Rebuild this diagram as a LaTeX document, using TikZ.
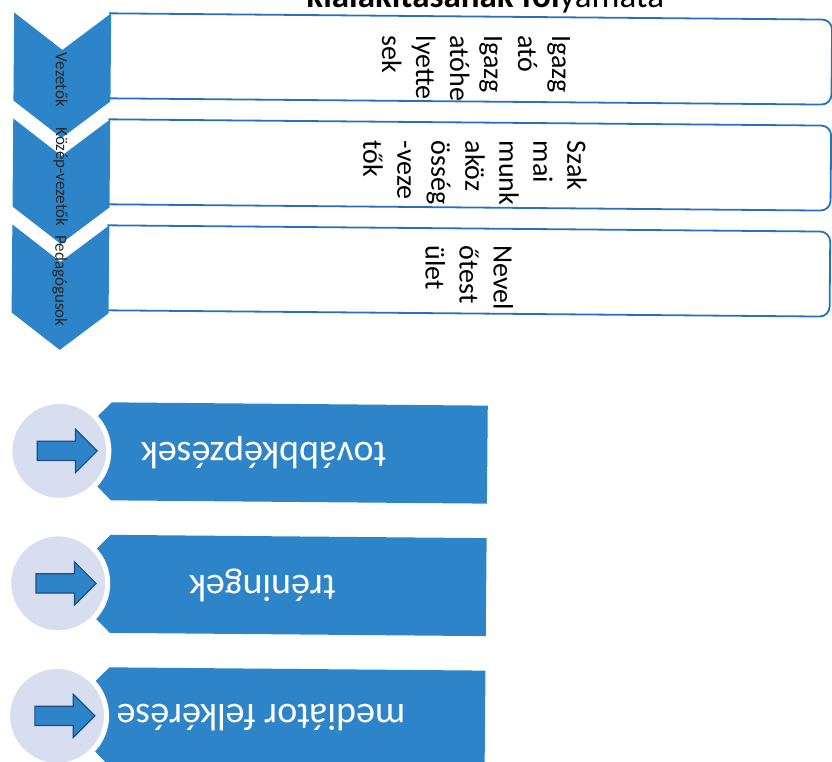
\documentclass[tikz,border=0pt]{standalone}
\usepackage{fontspec}
\setmainfont{Carlito}
\usetikzlibrary{shapes.arrows}
\definecolor{chevblue}{RGB}{46,132,200}
\definecolor{lineblue}{RGB}{40,112,190}
\definecolor{discfill}{RGB}{214,222,240}
\definecolor{arrowline}{RGB}{30,78,128}
\begin{document}
\begin{tikzpicture}
      [x=1pt,y=-1pt,every node/.style={inner sep=0pt},
       chevron/.style={fill=chevblue},
       listbox/.style={draw=lineblue, line width=1.8pt, rounded corners=10pt},
       boxtext/.style={rotate=-90, anchor=west, align=left, font=\fontsize{28}{34}\selectfont},
       levtext/.style={rotate=-90, text=black!85, font=\fontsize{17}{19}\selectfont},
       bar/.style={fill=chevblue},
       disc/.style={circle, fill=discfill, draw=white, line width=5pt, minimum size=99pt},
       arr/.style={single arrow, fill=chevblue, draw=arrowline, line width=1.2pt, inner xsep=0pt, inner ysep=9pt, single arrow head extend=12pt, minimum height=60pt},
       bartext/.style={rotate=180, text=white, font=\fontsize{38}{40}\selectfont}]
    \useasboundingbox (0,0) rectangle (832,761);
    \clip (0,0) rectangle (832,761);
    \begin{scope}[rotate around={-0.5:(416,380)}]
        \node[anchor=base west] (title) at (303,8) {\fontsize{35}{35}\selectfont\bfseries kialakításának fol\mdseries yamata};

        \foreach \y in {16,122,228}
          \draw[listbox] (106,\y) -- (829,\y) -- (829,\y+85) -- (106,\y+85);

        \foreach \y in {16,122,228}
          \fill[chevron] (11,\y) -- (59.5,\y+37) -- (108,\y) -- (108,\y+88) -- (59.5,\y+125) -- (11,\y+88) -- cycle;

        \node[levtext] (lev1) at (59,83) {Vezetők};
        \node[levtext] (lev2) at (59,180) {Közép-vezetők};
        \node[levtext] (lev3) at (59,284) {Pedagógusok};

        \node[boxtext] (box1) at (473,35) {Igazg\\ató\\Igazg\\atóhe\\lyette\\sek};
        \node[boxtext] (box2) at (473,140) {Szak\\mai\\munk\\aköz\\össég\\-veze\\tők};
        \node[boxtext] (box3) at (468,245) {Nevel\\őtest\\ület};

        \foreach \i/\y/\txt in {1/405/továbbképzések, 2/537.5/tréningek, 3/670/mediátor felkérése}
          {
          \fill[bar] (112,\y) -- (488,\y) -- (488,\y+98) -- (112,\y+98) -- (98,\y+84) -- (98,\y+14) -- cycle;
          \node[disc] (disc\i) at (60,\y+49) {};
          \node[arr] (arr\i) at (63,\y+49) {};
          \node[bartext] (bar\i) at (264,\y+49) {\txt};
          }
    \end{scope}
\end{tikzpicture}
\end{document}
